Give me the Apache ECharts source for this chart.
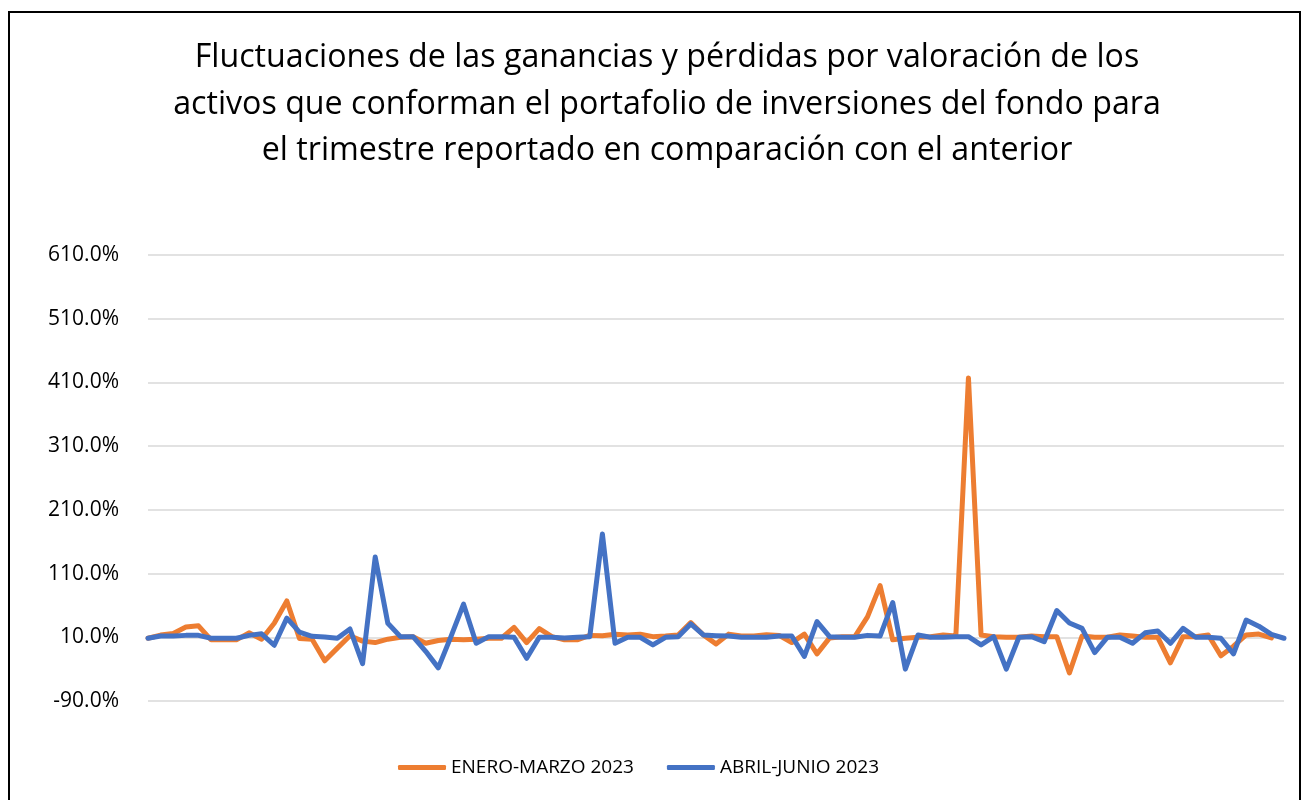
<!DOCTYPE html>
<html>
<head>
<meta charset="utf-8">
<script src="https://cdn.jsdelivr.net/npm/echarts@6/dist/echarts.min.js"></script>
<style>
  html, body { margin: 0; padding: 0; background: #fff; }
  #chart { width: 1304px; height: 800px; }
</style>
</head>
<body>
<div id="chart"></div>
<script>
const titleText = 'Fluctuaciones de las ganancias y pérdidas por valoración de los\nactivos que conforman el portafolio de inversiones del fondo para\nel trimestre reportado en comparación con el anterior';
const seriesNames = ['ENERO-MARZO 2023', 'ABRIL-JUNIO 2023'];
const categories = Array.from({length: 91}, (_, i) => String(i + 1));
const eneroMarzo = [
  8.5, 13.5, 16, 26, 28, 6, 6, 6, 17, 7,
  32, 67, 8, 7, -27, -7, 12.5, 4, 1.7, 7,
  10, 11, 0.6, 5, 7, 6, 7, 8.5, 8.5, 25.6,
  1.7, 23.5, 11, 6, 6, 13, 12.5, 14.7, 13.6, 14.7,
  11, 12, 13.6, 33, 13.6, -0.4, 15, 12, 12, 14,
  13, 1.7, 15, -16, 9, 11, 11, 42, 91, 6,
  8.5, 10, 11, 13.6, 12, 417, 13.6, 11, 10, 10,
  12, 11, 11, -46, 12, 10, 10, 13.6, 12, 10,
  10, -30, 11, 11, 13.6, -19, -4, 13.6, 15, 9,
  null
];
const abrilJunio = [
  8.5, 12, 12, 13, 13, 8.5, 8.5, 8.5, 13, 15.5,
  -2.5, 40, 18, 11.5, 10.5, 8.5, 23, -31.5, 136, 32,
  11, 11, -12, -38, 11, 62, 0.6, 11, 11, 10,
  -23, 10, 10, 9, 10, 11, 172, 0.6, 10, 10,
  -2, 10, 11, 31, 13.6, 12.6, 12, 10, 10, 10,
  12, 12, -20, 34.5, 11, 10, 10, 13, 12, 64.5,
  -40, 13.6, 10, 10, 11, 11, -2, 11, -40, 10,
  11, 3, 52, 32.5, 24, -14, 10, 10, 0.6, 17,
  20, 0.6, 24, 10, 10, 8.5, -16, 37, 27.5, 14.5,
  8.5
];
const yMin = -90, yMax = 610, yStep = 100;

const chart = echarts.init(document.getElementById('chart'), null, {renderer: 'canvas'});
const FONT = '"Open Sans", "Noto Sans", sans-serif';
chart.setOption({
  backgroundColor: '#ffffff',
  animation: false,
  title: {
    text: titleText,
    left: 662,
    top: 30,
    textAlign: 'center',
    textStyle: {
      fontFamily: FONT,
      fontSize: 32.2,
      fontWeight: 'normal',
      color: '#000000',
      lineHeight: 46.5
    }
  },
  graphic: [{
    type: 'rect',
    shape: {x: 9, y: 12, width: 1291, height: 800},
    style: {fill: 'none', stroke: '#000000', lineWidth: 2},
    silent: true,
    z: 100
  }],
  legend: {
    data: seriesNames,
    bottom: 18,
    left: 393,
    icon: 'roundRect',
    itemWidth: 48,
    itemHeight: 5,
    itemGap: 33,
    textStyle: {fontFamily: FONT, fontSize: 19, color: '#000000'}
  },
  grid: {left: 148, right: 20, top: 255, bottom: 99},
  xAxis: {
    type: 'category',
    data: categories,
    boundaryGap: false,
    axisLine: {show: false},
    axisTick: {show: false},
    axisLabel: {show: false},
    splitLine: {show: false}
  },
  yAxis: {
    type: 'value',
    min: yMin,
    max: yMax,
    interval: yStep,
    axisLine: {show: false},
    axisTick: {show: false},
    axisLabel: {
      margin: 29,
      fontFamily: FONT,
      fontSize: 21,
      color: '#000000',
      formatter: v => v.toFixed(1) + '%'
    },
    splitLine: {lineStyle: {color: '#d9d9d9', width: 1.5}}
  },
  series: [
    {
      name: seriesNames[0],
      type: 'line',
      data: eneroMarzo,
      symbol: 'none',
      lineStyle: {color: '#ED7D31', width: 5, join: 'round', cap: 'round'},
      itemStyle: {color: '#ED7D31'}
    },
    {
      name: seriesNames[1],
      type: 'line',
      data: abrilJunio,
      symbol: 'none',
      lineStyle: {color: '#4472C4', width: 5, join: 'round', cap: 'round'},
      itemStyle: {color: '#4472C4'}
    }
  ]
});
</script>
</body>
</html>
